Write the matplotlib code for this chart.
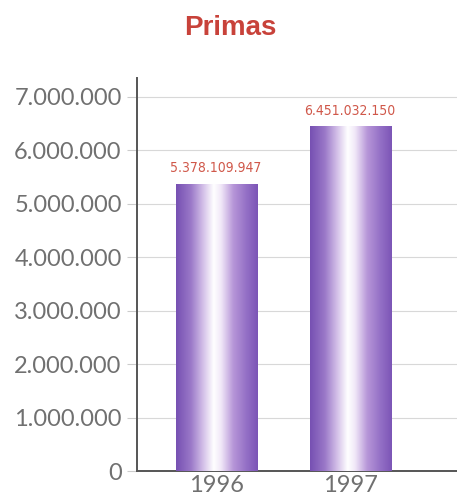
import numpy as np
import matplotlib
matplotlib.use("Agg")
import matplotlib.pyplot as plt
from matplotlib.colors import LinearSegmentedColormap
from matplotlib.ticker import FuncFormatter

# Datos: primas por año (en miles)
anios = ["1996", "1997"]
primas = [5378109.947, 6451032.150]
etiquetas = ["5.378.109.947", "6.451.032.150"]
ticks_y = [0, 1000000, 2000000, 3000000, 4000000, 5000000, 6000000, 7000000]

def miles(v, pos):
    return f"{int(v):,}".replace(",", ".")

# degradado morado-blanco-morado para simular cilindros
degradado = LinearSegmentedColormap.from_list("cilindro", [
    (0.00, "#7650b2"),
    (0.18, "#9a78c8"),
    (0.33, "#d3bfe8"),
    (0.46, "#ffffff"),
    (0.55, "#f1e8f8"),
    (0.70, "#b796d8"),
    (0.86, "#9470c6"),
    (1.00, "#7c55b6"),
])

fig = plt.figure(figsize=(4.57, 4.98), dpi=100)
fig.patch.set_facecolor("white")
ax = fig.add_axes([0.2998, 0.0542, 0.7002, 0.7888])

x = np.arange(len(anios))
barras = ax.bar(x, primas, width=0.605, color="none", edgecolor="none", zorder=3)

grad = np.linspace(0, 1, 256).reshape(1, -1)
for b in barras:
    x0, ancho, alto = b.get_x(), b.get_width(), b.get_height()
    im = ax.imshow(grad, cmap=degradado, aspect="auto", zorder=3,
                   extent=[x0, x0 + ancho, 0, alto], interpolation="bicubic")
    im.set_clip_path(b)

for xi, v, txt in zip(x, primas, etiquetas):
    ax.annotate(txt, (xi, v), xytext=(0, 6), textcoords="offset points",
                ha="center", va="bottom", color="#d0584a", fontsize=10,
                family="DejaVu Sans", fontstretch="condensed")

ax.set_xlim(-0.59, 1.798)
ax.set_ylim(0, 7350000)
ax.set_xticks(x)
ax.set_xticklabels(anios)
ax.set_yticks(ticks_y)
ax.yaxis.set_major_formatter(FuncFormatter(miles))

ax.grid(axis="y", color="#d8d8d8", linewidth=0.8, zorder=0)
ax.set_axisbelow(True)
for lado in ["top", "right"]:
    ax.spines[lado].set_visible(False)
ax.spines["left"].set_color("#555555")
ax.spines["left"].set_linewidth(1.4)
ax.spines["bottom"].set_color("#555555")
ax.spines["bottom"].set_linewidth(1.4)

ax.tick_params(axis="y", length=7, color="#cccccc", pad=4,
               labelsize=17, labelcolor="#707070")
ax.tick_params(axis="x", length=0, pad=3, labelsize=17, labelcolor="#707070")
for lbl in ax.get_xticklabels() + ax.get_yticklabels():
    lbl.set_family(["Lato", "DejaVu Sans"])

fig.text(0.503, 0.944, "Primas", ha="center", va="center", color="#c8423a",
         fontsize=20, fontweight="bold", family=["Liberation Sans", "DejaVu Sans"])

fig.savefig("out.png", dpi=100, facecolor="white")
